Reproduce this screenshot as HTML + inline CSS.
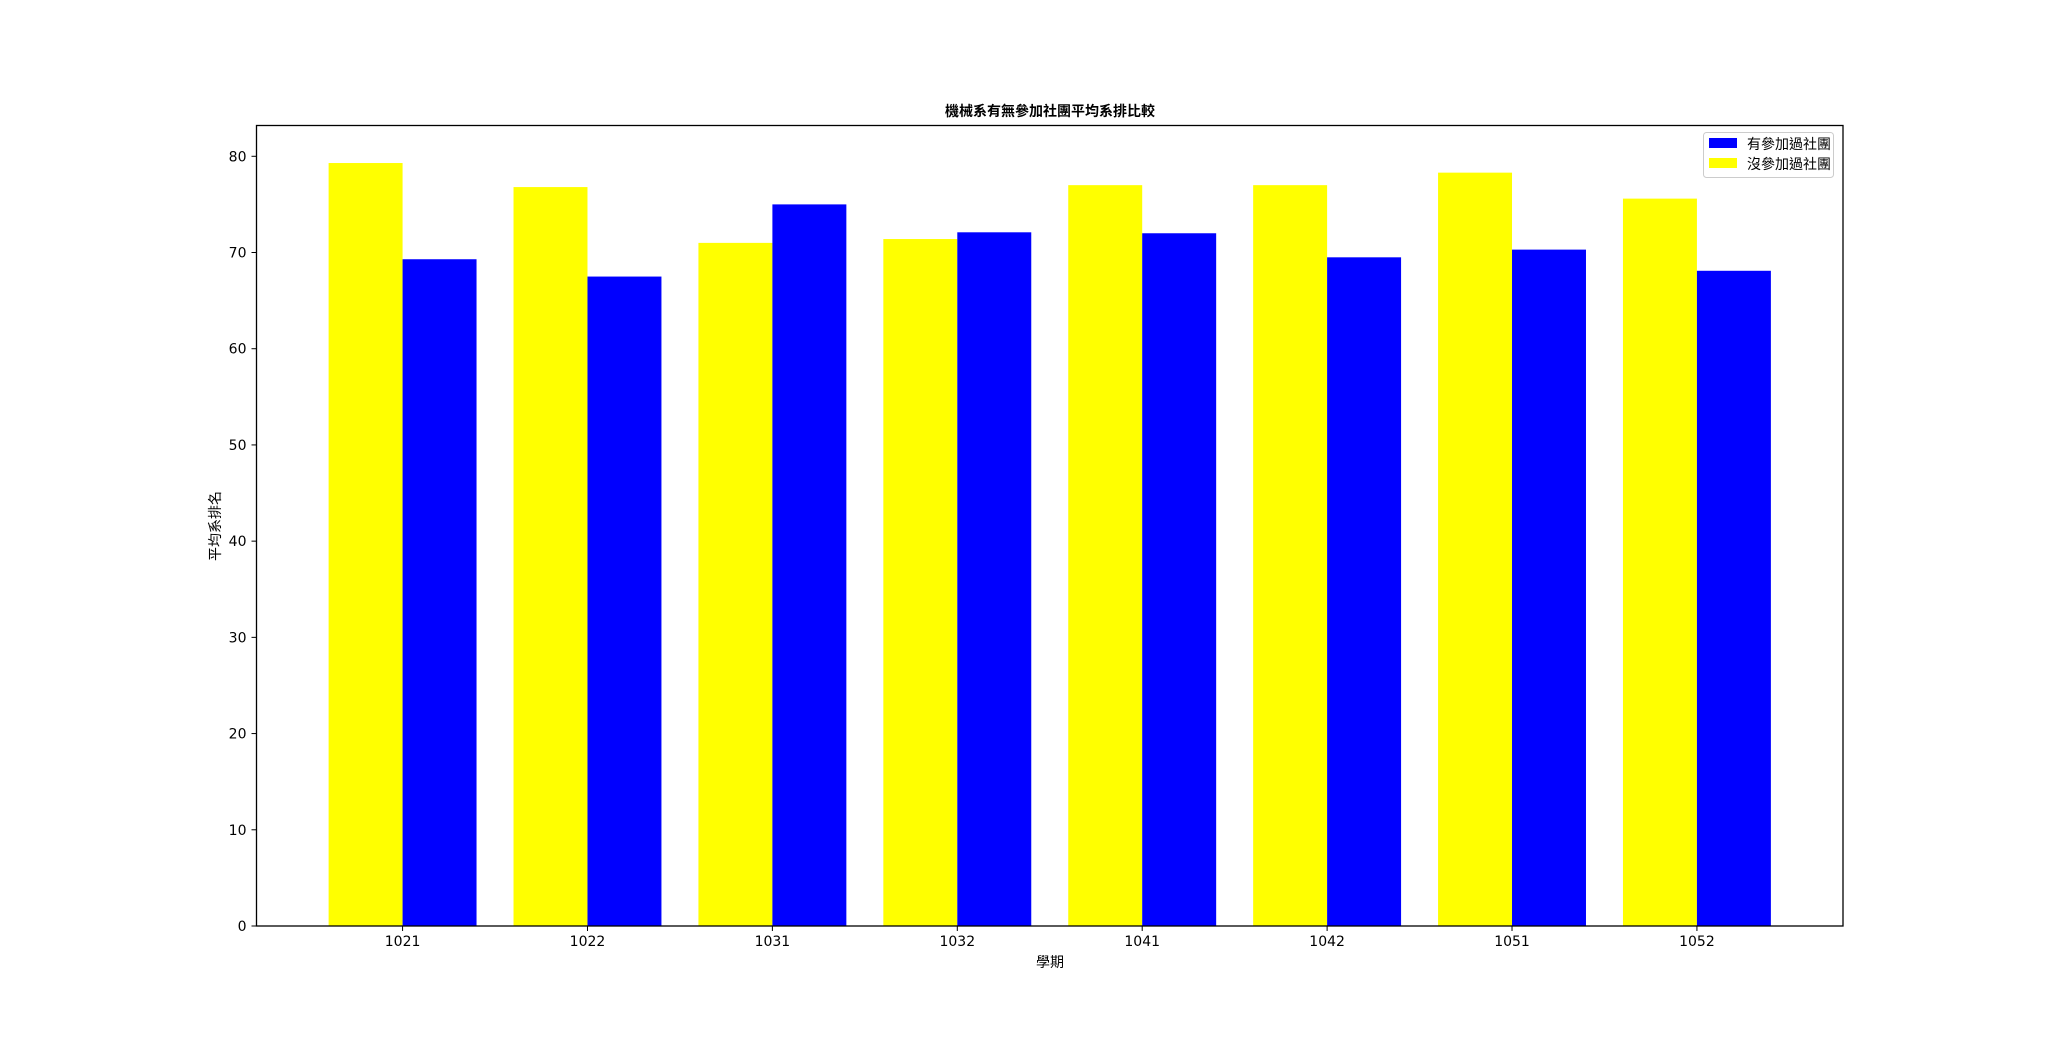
<!DOCTYPE html>
<html><head><meta charset="utf-8"><style>
html,body{margin:0;padding:0;background:#fff;}
svg text{font-family:"DejaVu Sans","Liberation Sans","Noto Sans CJK TC",sans-serif;fill:#000;}
</style></head><body>
<svg id="chart" width="2048" height="1041" xmlns="http://www.w3.org/2000/svg">
<rect width="2048" height="1041" fill="#fff"/>
<g id="bars"></g>
<g id="ticks"></g>
<rect x="256.5" y="125.5" width="1586.5" height="800.5" fill="none" stroke="#000" stroke-width="1.3"/>
<text x="1050" y="116" font-size="14" text-anchor="middle" font-weight="bold" font-family="Noto Sans CJK TC, sans-serif">機械系有無參加社團平均系排比較</text>
<text x="1050" y="967" font-size="14" text-anchor="middle">學期</text>
<text transform="translate(220,526) rotate(-90)" font-size="14" text-anchor="middle">平均系排名</text>
<g>
<rect x="1703.5" y="132.5" width="130" height="45" rx="3" fill="#fff" stroke="#ccc"/>
<rect x="1709" y="138" width="28" height="10" fill="#0000ff"/>
<text x="1747" y="149" font-size="14">有參加過社團</text>
<rect x="1709" y="158" width="28" height="10" fill="#ffff00"/>
<text x="1747" y="169" font-size="14">沒參加過社團</text>
</g>
</svg>
<script>
const categories = ["1021","1022","1031","1032","1041","1042","1051","1052"];
const notJoined = [79.3,76.8,71.0,71.4,77.0,77.0,78.3,75.6];
const joined = [69.3,67.5,75.0,72.1,72.0,69.5,70.3,68.1];
const yTicks = [0,10,20,30,40,50,60,70,80];

const NS="http://www.w3.org/2000/svg";
const x0=256.5,x1=1843,y0=926,y1=125.5;
const xmin=-0.79,xmax=categories.length-1+0.79,ymax=83.2;
function xs(v){return x0+(v-xmin)/(xmax-xmin)*(x1-x0);}
function ys(v){return y0-v/ymax*(y0-y1);}
const bw=0.4;
const bars=document.getElementById('bars');
const ticks=document.getElementById('ticks');
function mk(tag,attrs,parent){const e=document.createElementNS(NS,tag);for(const k in attrs)e.setAttribute(k,attrs[k]);parent.appendChild(e);return e;}
categories.forEach((c,i)=>{
  let r=mk('rect',{x:xs(i-bw),y:ys(notJoined[i]),width:xs(i)-xs(i-bw),height:y0-ys(notJoined[i]),fill:'#ffff00'},bars);
  
  
  let b=mk('rect',{x:xs(i),y:ys(joined[i]),width:xs(i+bw)-xs(i),height:y0-ys(joined[i]),fill:'#0000ff'},bars);
  
  
  let t=mk('line',{x1:xs(i),x2:xs(i),y1:y0,y2:y0+5,stroke:'#000','stroke-width':1},ticks);
  
  
  let l=mk('text',{x:xs(i),y:y0+20,'font-size':14,'text-anchor':'middle'},ticks);
  l.textContent=c;
  
  
});
yTicks.forEach(v=>{
  let t=mk('line',{x1:x0-5,x2:x0,y1:ys(v),y2:ys(v),stroke:'#000','stroke-width':1},ticks);
  
  
  let l=mk('text',{x:x0-10,y:ys(v)+5,'font-size':14,'text-anchor':'end'},ticks);
  l.textContent=v;
  
  
});
</script>
</body></html>
